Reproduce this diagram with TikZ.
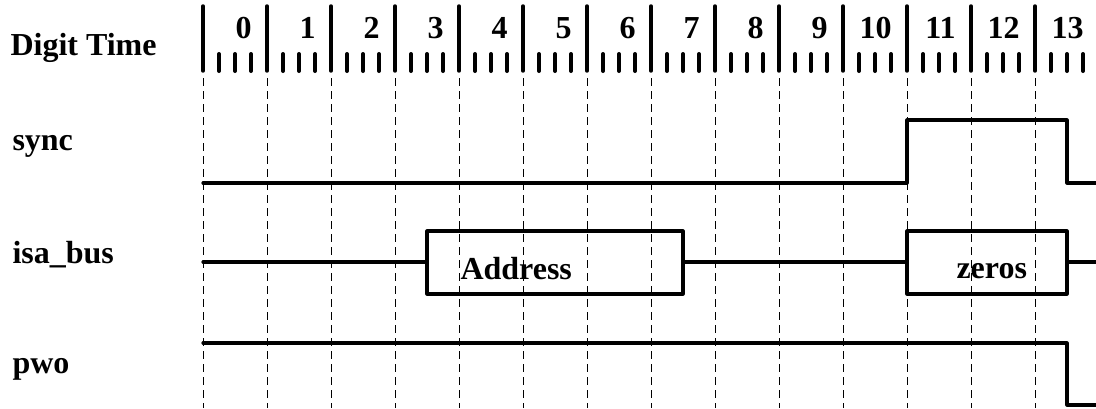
\documentclass[tikz,border=0pt]{standalone}
\usepackage{fontspec}
\setmainfont{Liberation Serif}

\tikzset{every picture/.style={line width=0.75pt}}
\tikzset{
  sig/.style={line width=2.4pt, line cap=round, line join=round},
  majortick/.style={line width=2.6pt, line cap=round},
  minortick/.style={line width=3pt, line cap=round},
  guide/.style={line width=0.75pt, dash pattern=on 6pt off 3.75pt},
  lbl/.style={inner sep=0pt, font=\fontsize{24}{28}\selectfont\bfseries}
}

\begin{document}
\begin{tikzpicture}[x=0.75pt,y=0.75pt,yscale=-1,xscale=1]
    \path [use as bounding box] (0,0) rectangle (1096,408); %set diagram size 1096 x 408
    
    %Text Nodes: row names
    \node [lbl, anchor=base west] (digittime) at (10,55) {Digit Time};
    \node [lbl, anchor=base west] (sync) at (12,150) {sync};
    \node [lbl, anchor=base west] (isabus) at (12,263) {isa\_bus};
    \node [lbl, anchor=base west] (pwo) at (12,373) {pwo};
    
    %Ruler: major ticks, minor ticks, digit numbers and guide lines
    \foreach \k in {0,...,13} {
      \pgfmathsetmacro{\xk}{203+64*\k}
      \draw [guide] (\xk,78) -- (\xk,408) ;
      \draw [majortick] (\xk,6) -- (\xk,71) ;
      \foreach \m in {16,32,48}
        \draw [minortick] (\xk+\m,54) -- (\xk+\m,71) ;
      \node [lbl, anchor=base east] (digit\k) at (\xk+49,38) {\k};
    }
    
    %Signal: sync
    \draw [sig] (203,183) -- (907,183) -- (907,120) -- (1067,120) -- (1067,183) -- (1096,183) ;
    
    %Signal: isa_bus
    \draw [sig] (203,262) -- (427,262) ;
    \draw [sig] (427,231) rectangle (683,294) ;
    \draw [sig] (683,262) -- (907,262) ;
    \draw [sig] (907,231) rectangle (1067,294) ;
    \draw [sig] (1067,262) -- (1096,262) ;
    \node [lbl, anchor=base west] (address) at (460,279) {Address};
    \node [lbl, anchor=base west] (zeros) at (956,278) {zeros};
    
    %Signal: pwo
    \draw [sig] (203,343) -- (1067,343) -- (1067,405) -- (1096,405) ;
    
\end{tikzpicture}
\end{document}
